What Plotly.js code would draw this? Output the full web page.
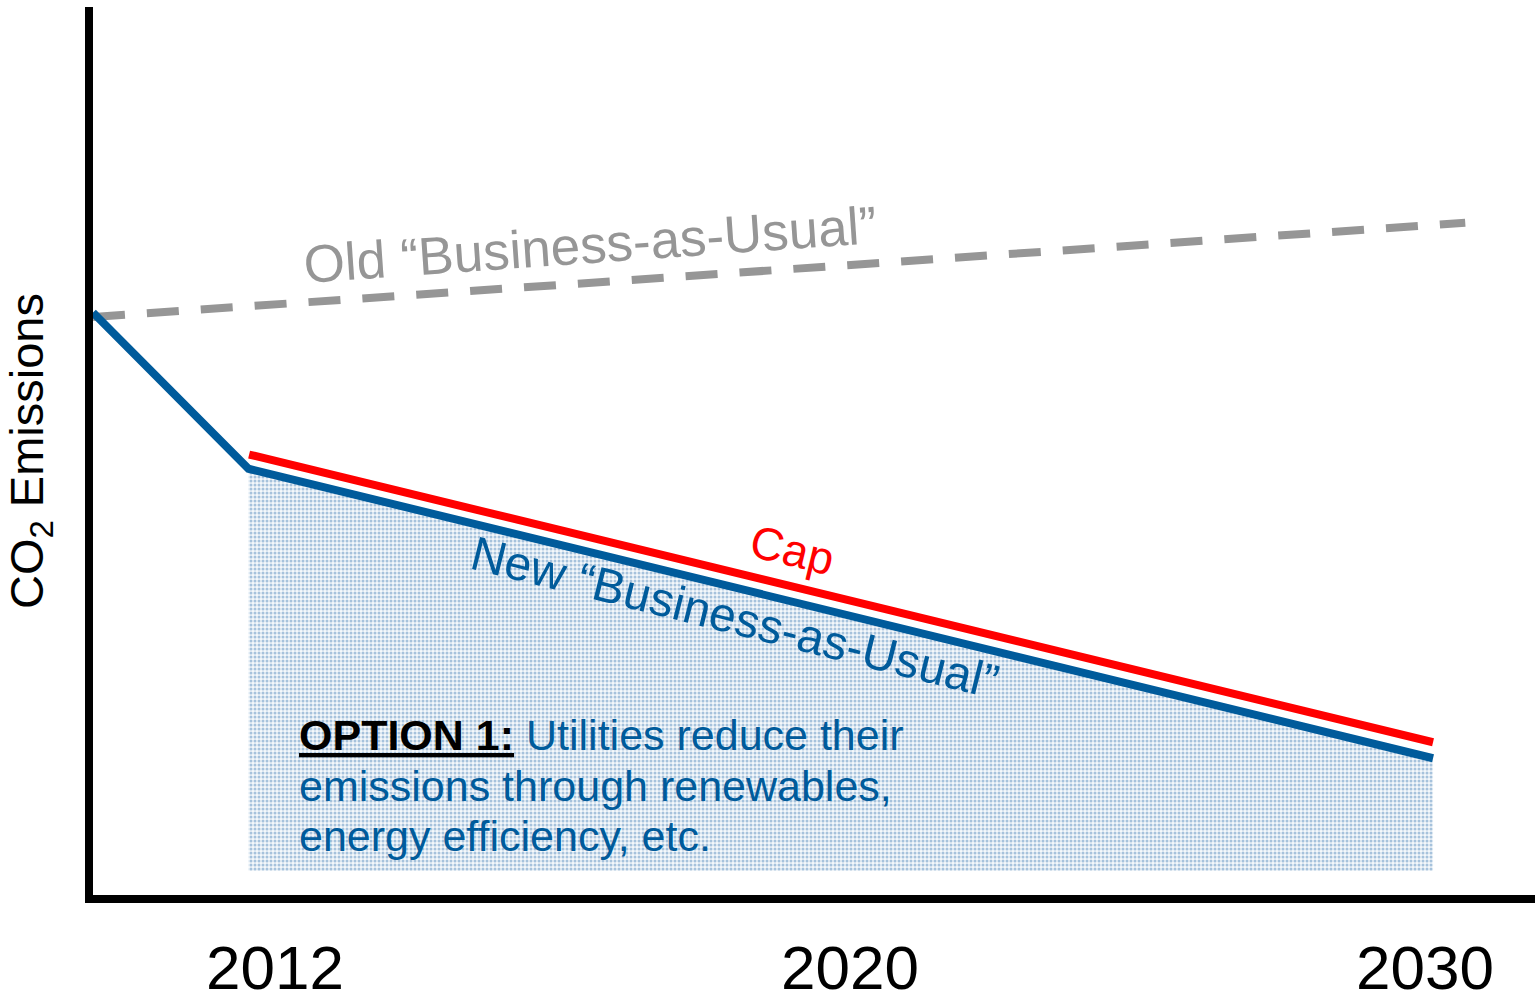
<!DOCTYPE html>
<html>
<head>
<meta charset="utf-8">
<script src="https://cdn.plot.ly/plotly-3.0.1.min.js"></script>
<style>
  html, body { margin: 0; padding: 0; background: #ffffff; }
  #chart { width: 1535px; height: 994px; }
</style>
</head>
<body>
<div id="chart"></div>
<script>
// Tick labels on an evenly spaced (schematic) time axis
const tickLabels = ['2012', '2020', '2030'];
const tickIndex = [1, 2, 3];

// Old "Business-as-Usual" (grey dashed)
const oldBauX = [0.6835, 3.070];
const oldBauY = [65.1, 75.7];

// New "Business-as-Usual" (blue)
const newBauX = [0.6835, 0.954, 3.014];
const newBauY = [65.6, 48.0, 15.4];

// Cap (red)
const capX = [0.955, 3.014];
const capY = [49.6, 17.2];

// Shaded area (Option 1 region) under the new BAU line
const areaX = [0.954, 3.014, 3.014, 0.954];
const areaY = [48.0, 15.4, 2.7, 2.7];

const BLUE = '#005b9b';
const RED = '#ff0000';
const GREY = '#969696';
const FONT = 'Liberation Sans, Arial, sans-serif';

const traces = [
  {
    x: areaX, y: areaY, type: 'scatter', mode: 'none',
    fill: 'toself', fillcolor: '#e3ecf4',
    fillpattern: { shape: '.', fgcolor: '#a6c2dc', bgcolor: '#f4f8fb', size: 4, solidity: 0.45 },
    hoverinfo: 'skip', showlegend: false
  },
  {
    x: oldBauX, y: oldBauY, type: 'scatter', mode: 'lines',
    line: { color: GREY, width: 8, dash: '32px,22px' },
    showlegend: false
  },
  {
    x: capX, y: capY, type: 'scatter', mode: 'lines',
    line: { color: RED, width: 8 },
    showlegend: false
  },
  {
    x: newBauX, y: newBauY, type: 'scatter', mode: 'lines',
    line: { color: BLUE, width: 8 },
    showlegend: false
  }
];

const layout = {
  width: 1535, height: 994,
  margin: { l: 93, r: 0, t: 7, b: 99 },
  paper_bgcolor: '#ffffff', plot_bgcolor: '#ffffff',
  font: { family: FONT, color: '#000000' },
  showlegend: false,
  xaxis: {
    range: [0.6835, 3.1913],
    tickmode: 'array', tickvals: tickIndex, ticktext: tickLabels,
    ticks: '', showgrid: false, zeroline: false,
    showline: true, linecolor: '#000000', linewidth: 8,
    tickfont: { family: FONT, size: 62, color: '#000000' },
    ticklabelstandoff: 12,
    fixedrange: true
  },
  yaxis: {
    range: [0, 100],
    showticklabels: false, ticks: '', showgrid: false, zeroline: false,
    showline: true, linecolor: '#000000', linewidth: 8,
    title: { text: 'CO<sub>2</sub> Emissions', font: { family: FONT, size: 47, color: '#000000' }, standoff: 30 },
    fixedrange: true
  },
  annotations: [
    {
      x: 1.548, y: 73.2, xref: 'x', yref: 'y',
      text: 'Old \u201cBusiness-as-Usual\u201d', showarrow: false,
      textangle: -4, font: { family: FONT, size: 53, color: GREY }
    },
    {
      x: 1.90, y: 38.8, xref: 'x', yref: 'y',
      text: 'Cap', showarrow: false,
      textangle: 13.7, font: { family: FONT, size: 46, color: RED }
    },
    {
      x: 1.80, y: 31.2, xref: 'x', yref: 'y',
      text: 'New \u201cBusiness-as-Usual\u201d', showarrow: false,
      textangle: 14, font: { family: FONT, size: 48, color: BLUE }
    },
    {
      x: 1.038, y: 18.0, xref: 'x', yref: 'y',
      xanchor: 'left', yanchor: 'middle', align: 'left',
      text: '<b><u>OPTION 1:</u></b><span style="color:' + BLUE + '"> Utilities reduce their</span>',
      showarrow: false,
      font: { family: FONT, size: 43, color: '#000000' }
    },
    {
      x: 1.038, y: 12.27, xref: 'x', yref: 'y',
      xanchor: 'left', yanchor: 'middle', align: 'left',
      text: 'emissions through renewables,',
      showarrow: false,
      font: { family: FONT, size: 43, color: BLUE }
    },
    {
      x: 1.038, y: 6.64, xref: 'x', yref: 'y',
      xanchor: 'left', yanchor: 'middle', align: 'left',
      text: 'energy efficiency, etc.',
      showarrow: false,
      font: { family: FONT, size: 43, color: BLUE }
    }
  ]
};

Plotly.newPlot('chart', traces, layout, { displayModeBar: false, staticPlot: true });
</script>
</body>
</html>
